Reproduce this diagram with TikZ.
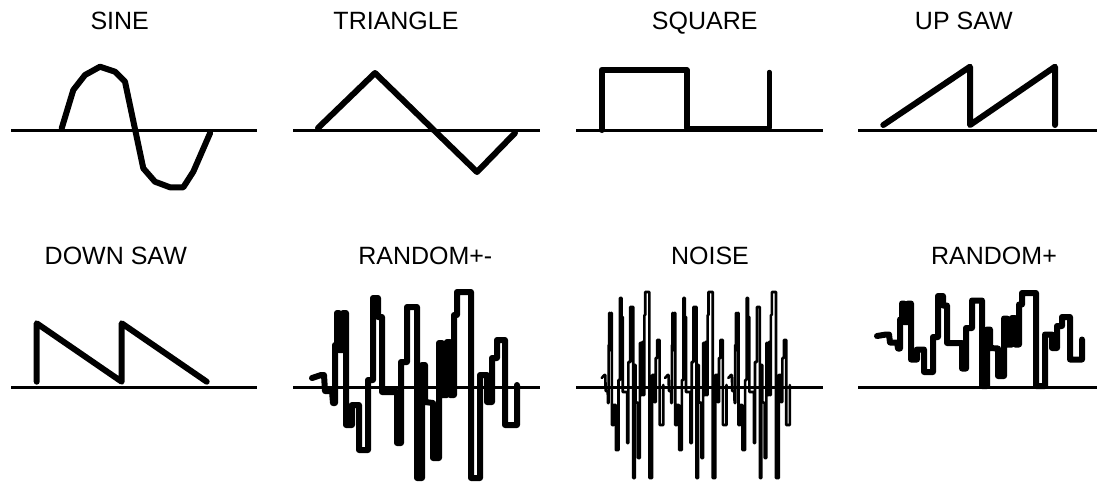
\documentclass[tikz,border=0pt]{standalone}
\usepackage{fontspec}
\setmainfont{Liberation Sans}
\begin{document}
\begin{tikzpicture}[x=1pt,y=-1pt,
  lbl/.style={font=\fontsize{25}{30}\selectfont, inner sep=0pt, anchor=base},
  axis/.style={line width=3pt},
  wave/.style={line width=6pt, line cap=round, line join=round},
  noisewave/.style={line width=2.6pt, line cap=round, line join=round}]
\useasboundingbox (0,0) rectangle (1097,483);
\def\rndpath{(312,378) -- (321,375) -- (324,375) -- (325,391) -- (332,391) -- (333,403) -- (335,403) -- (335,345) -- (337,345) -- (337,313) -- (339,313) -- (339,350) -- (343,350) -- (343,313) -- (346,313) -- (346,425) -- (352,425) -- (352,405) -- (359,405) -- (359,450) -- (368,450) -- (368,380) -- (373,380) -- (373,298) -- (378,298) -- (378,317) -- (382,317) -- (382,392) -- (397,392) -- (397,443) -- (401,443) -- (401,362) -- (407,362) -- (407,307) -- (417,307) -- (417,478) -- (422,478) -- (422,365) -- (425,365) -- (425,402) -- (433,403) -- (433,458) -- (439,458) -- (439,343) -- (442,343) -- (442,395) -- (447,395) -- (447,342) -- (450,342) -- (450,395) -- (454,395) -- (454,315) -- (457,315) -- (457,292) -- (471,292) -- (471,478) -- (480,478) -- (480,375) -- (487,375) -- (487,402) -- (492,402) -- (492,358) -- (497,358) -- (497,340) -- (505,340) -- (505,425) -- (517,425) -- (517,385)}

% labels
\node[lbl] (lsine) at (119.7,29.3) {SINE};
\node[lbl] (ltri) at (396,29.3) {TRIANGLE};
\node[lbl] (lsq) at (704.7,29.3) {SQUARE};
\node[lbl] (lup) at (963.8,29.3) {UP SAW};
\node[lbl] (ldown) at (115.8,264) {DOWN SAW};
\node[lbl] (lrpm) at (425.3,264) {RANDOM+-};
\node[lbl] (lnoise) at (710,264) {NOISE};
\node[lbl] (lrp) at (994,264) {RANDOM+};

% axes
\draw[axis] (11,130) -- (257,130);
\draw[axis] (293,130) -- (540,130);
\draw[axis] (576,130) -- (823,130);
\draw[axis] (858,130) -- (1097,130);
\draw[axis] (11,387) -- (257,387);
\draw[axis] (293,387) -- (540,387);
\draw[axis] (576,387) -- (823,387);
\draw[axis] (858,387) -- (1097,387);

% sine
\draw[wave] (61.7,128.3) -- (73.3,90) -- (85,75) -- (100,66.7) -- (115,71.7) -- (125,81.7) -- (143.3,168.3) -- (155,181.7) -- (170,187.3) -- (183.3,187.3) -- (193.3,171.7) -- (210,133.3);
% triangle
\draw[wave] (318,128) -- (375,73) -- (477,172) -- (515,133);
% square
\draw[wave] (601.7,130) -- (601.7,70) -- (686.7,70) -- (686.7,128);
\draw[line width=4.5pt, line cap=round, line join=round] (686.7,128) -- (769.3,128) -- (769.3,72);
% up saw
\draw[wave] (883.3,125) -- (970,66.7) -- (970,125) -- (1055,66.7) -- (1055,125);
% down saw
\draw[wave] (36.7,381.7) -- (36.7,323.3) -- (121.7,381.7) -- (121.7,323.3) -- (206.7,381.7);
% random +-
\draw[wave] \rndpath;
% noise
\foreach \s in {508.1,571.4,634.7}{
  \begin{scope}[shift={(\s,0)}, xscale=0.3]
    \draw[noisewave] \rndpath;
  \end{scope}
}
% random +
\begin{scope}[shift={(565,147)}, yscale=0.5]
  \draw[wave] \rndpath;
\end{scope}
\end{tikzpicture}
\end{document}
